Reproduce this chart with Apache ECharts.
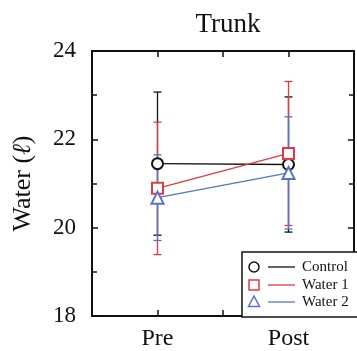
<!DOCTYPE html>
<html><head><meta charset="utf-8">
<script src="https://cdn.jsdelivr.net/npm/echarts@6/dist/echarts.min.js"></script>
<style>html,body{margin:0;padding:0;background:#fff}#c{width:357px;height:351px}</style>
</head><body><div id="c"></div>
<script>
const categories = ['Pre', 'Post'];
const catPos = [1, 2];
const seriesNames = ['Control', 'Water 1', 'Water 2'];
const controlMean = [21.45, 21.43];
const controlSD = [1.62, 1.53];
const water1Mean = [20.89, 21.68];
const water1SD = [1.50, 1.63];
const water2Mean = [20.68, 21.24];
const water2SD = [0.97, 1.27];
const yTicks = [18, 20, 22, 24];

const colors = ['#111111', '#e23a40', '#5473c2'];
const symbols = ['emptyCircle', 'emptyRect', 'emptyTriangle'];
const means = [controlMean, water1Mean, water2Mean];
const sds = [controlSD, water1SD, water2SD];
const serif = '"Liberation Serif","DejaVu Serif",serif';

const chart = echarts.init(document.getElementById('c'));
const series = [];
for (let s = 0; s < 3; s++) {
  const errData = catPos.map((x, i) => [x, means[s][i] - sds[s][i], means[s][i] + sds[s][i]]);
  series.push({
    type: 'custom', name: seriesNames[s] + ' err', z: 2,
    data: errData,
    renderItem: function (params, api) {
      const x = api.value(0);
      const lo = api.coord([x, api.value(1)]);
      const hi = api.coord([x, api.value(2)]);
      const hw = 4;
      const st = { stroke: colors[s], lineWidth: 1.3 };
      return { type: 'group', children: [
        { type: 'line', shape: { x1: lo[0], y1: lo[1], x2: hi[0], y2: hi[1] }, style: st },
        { type: 'line', shape: { x1: lo[0] - hw, y1: lo[1], x2: lo[0] + hw, y2: lo[1] }, style: st },
        { type: 'line', shape: { x1: hi[0] - hw, y1: hi[1], x2: hi[0] + hw, y2: hi[1] }, style: st }
      ]};
    }
  });
}
for (let s = 0; s < 3; s++) {
  series.push({
    type: 'line', name: seriesNames[s], z: 3,
    data: catPos.map((x, i) => [x, means[s][i]]),
    symbol: symbols[s], symbolSize: s === 2 ? 12 : 11,
    itemStyle: { color: colors[s], borderWidth: 1.6 },
    lineStyle: { color: colors[s], width: 1.3 },
    animation: false
  });
}

const labelMap = { 1: categories[0], 2: categories[1] };
const leg = [];
const rowsY = [267, 285, 302];
leg.push({ type: 'rect', shape: { x: 242, y: 252, width: 130, height: 65 }, style: { fill: '#fff', stroke: '#111', lineWidth: 1.5 }, z: 100 });
for (let s = 0; s < 3; s++) {
  const y = rowsY[s];
  let shape;
  if (s === 0) shape = { type: 'circle', shape: { cx: 254, cy: y, r: 5 } };
  else if (s === 1) shape = { type: 'rect', shape: { x: 249, y: y - 5, width: 10, height: 10 } };
  else shape = { type: 'polygon', shape: { points: [[254, y - 6], [248.5, y + 4.5], [259.5, y + 4.5]] } };
  shape.style = { fill: 'none', stroke: colors[s], lineWidth: 1.5 };
  shape.z = 101;
  leg.push(shape);
  leg.push({ type: 'line', shape: { x1: 268, y1: y, x2: 295, y2: y }, style: { stroke: colors[s], lineWidth: 1.3 }, z: 101 });
  leg.push({ type: 'text', x: 302, y: y, style: { text: seriesNames[s], font: '15px ' + serif, fill: '#111', verticalAlign: 'middle' }, z: 101 });
}

chart.setOption({
  animation: false,
  title: { text: 'Trunk', left: 223, top: 6, textAlign: 'center',
    textStyle: { fontFamily: serif, fontSize: 27, fontWeight: 'normal', color: '#111' } },
  grid: { left: 92, right: 1, top: 51, bottom: 34 },
  xAxis: [
    { type: 'value', min: 0.5, max: 2.5, interval: 0.5, position: 'bottom',
      axisLine: { lineStyle: { color: '#111', width: 2 } },
      axisTick: { inside: true, length: 6, lineStyle: { color: '#111', width: 1.5 } },
      axisLabel: { formatter: v => labelMap[v] || '', fontFamily: serif, fontSize: 24, color: '#111', margin: 11 },
      splitLine: { show: false } },
    { type: 'value', min: 0.5, max: 2.5, interval: 0.5, position: 'top',
      axisLine: { lineStyle: { color: '#111', width: 2 } },
      axisTick: { inside: true, length: 6, lineStyle: { color: '#111', width: 1.5 } },
      axisLabel: { show: false }, splitLine: { show: false } }
  ],
  yAxis: [
    { type: 'value', min: yTicks[0], max: yTicks[yTicks.length - 1], interval: 2, position: 'left',
      name: '{n|Water (}{i|ℓ}{n|)}', nameLocation: 'middle', nameGap: 56,
      nameTextStyle: { fontFamily: serif, fontSize: 26, color: '#111',
        rich: { n: { fontFamily: serif, fontSize: 26, color: '#111' },
                i: { fontFamily: serif, fontSize: 26, fontStyle: 'italic', color: '#111' } } },
      axisLine: { show: true, lineStyle: { color: '#111', width: 2 } },
      axisTick: { inside: true, length: 6, lineStyle: { color: '#111', width: 1.5 } },
      minorTick: { show: true, splitNumber: 2, length: 5, lineStyle: { color: '#111', width: 1.5 } },
      axisLabel: { fontFamily: serif, fontSize: 23, color: '#111', margin: 16, padding: [7, 0, 0, 0] },
      splitLine: { show: false } },
    { type: 'value', min: yTicks[0], max: yTicks[yTicks.length - 1], interval: 2, position: 'right',
      axisLine: { show: true, lineStyle: { color: '#111', width: 2 } },
      axisTick: { inside: true, length: 6, lineStyle: { color: '#111', width: 1.5 } },
      minorTick: { show: true, splitNumber: 2, length: 5, lineStyle: { color: '#111', width: 1.5 } },
      axisLabel: { show: false }, splitLine: { show: false } }
  ],
  series: series,
  graphic: leg
});
</script></body></html>
